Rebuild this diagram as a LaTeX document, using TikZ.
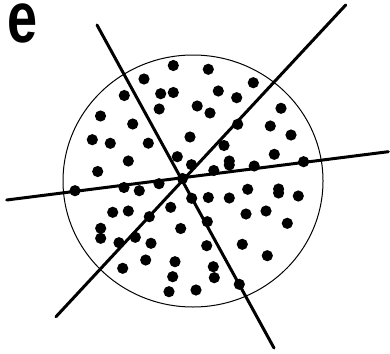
\documentclass[tikz,border=0pt]{standalone}
\usepackage{fontspec}
\newfontfamily\headfont{Liberation Sans}
\usepackage{tikz}
\usetikzlibrary{calc}
\tikzset{
  rim/.style  = {draw=black, line width=1pt},
  cut/.style  = {draw=black, line width=3pt, line cap=round},
  pt/.style   = {fill=black},
  head/.style = {inner sep=0pt, anchor=base east,
                 font=\headfont\bfseries\fontsize{72}{72}\selectfont},
}

\begin{document}
\begin{tikzpicture}[x=1pt,y=-1pt]
\useasboundingbox (0,0) rectangle (390,353);
\clip (0,0) rectangle (390,353);
\node[head] (title) at (37.5,42) {\scalebox{0.75}[1]{s\kern6pt e}};
% sample region
\draw[rim] (193,181) ellipse [x radius=130, y radius=126];
% dividing lines
\coordinate (a1) at (97,25);
\coordinate (a2) at (274,348);
\coordinate (b1) at (56,316.7);
\coordinate (b2) at (345.7,5);
\coordinate (c1) at (6.7,200);
\coordinate (c2) at (388.3,151.7);
\draw[cut] (a1) -- (a2);
\draw[cut] (b1) -- (b2);
\draw[cut] (c1) -- (c2);
% points
\foreach \x/\y in {173.3/65.5, 208.3/69.3, 144/79, 253.3/82.7, 124.3/95.5,
  160.7/93.7, 173.3/92.5, 218.3/91, 236.7/97.7, 159.2/109, 197.2/106,
  210/113, 281/108.3, 100.5/116, 132.7/124, 237.7/124.3, 270.3/126,
  291/135, 92.3/139.7, 110.3/143.3, 148.3/143.2, 190/137, 224/145.5,
  274.3/154.3, 177.3/156.7, 128.3/161, 191.5/164.7, 229.3/161,
  229.3/165, 213.8/170.5, 254.2/166, 303.6/161.7, 97.7/171.5,
  75/190.7, 124/187.5, 139.3/190.7, 159/183.7, 182.5/178.5, 191.7/198.3,
  208.3/197.5, 229.3/198, 247.7/189.3, 278.6/189, 278.6/193,
  298.3/196, 112.7/212.3, 128.3/211, 170.7/207.3, 149.3/216.7,
  207.3/221.7, 246/214, 266/211, 287.3/223.3, 180.7/228.5,
  100.7/228.3, 100.7/238.3, 119/242.7, 135.3/237.3, 151/243.3,
  206.7/245.7, 242.3/244.3, 145.7/260, 175/261.7, 267.3/255.7,
  122.7/268.3, 213.3/266.7, 172.7/276.7, 214.3/277.7, 239.3/284.3,
  169/291.7, 196/290}
  \fill[pt] (\x,\y) circle [radius=5.6pt];
\end{tikzpicture}
\end{document}
